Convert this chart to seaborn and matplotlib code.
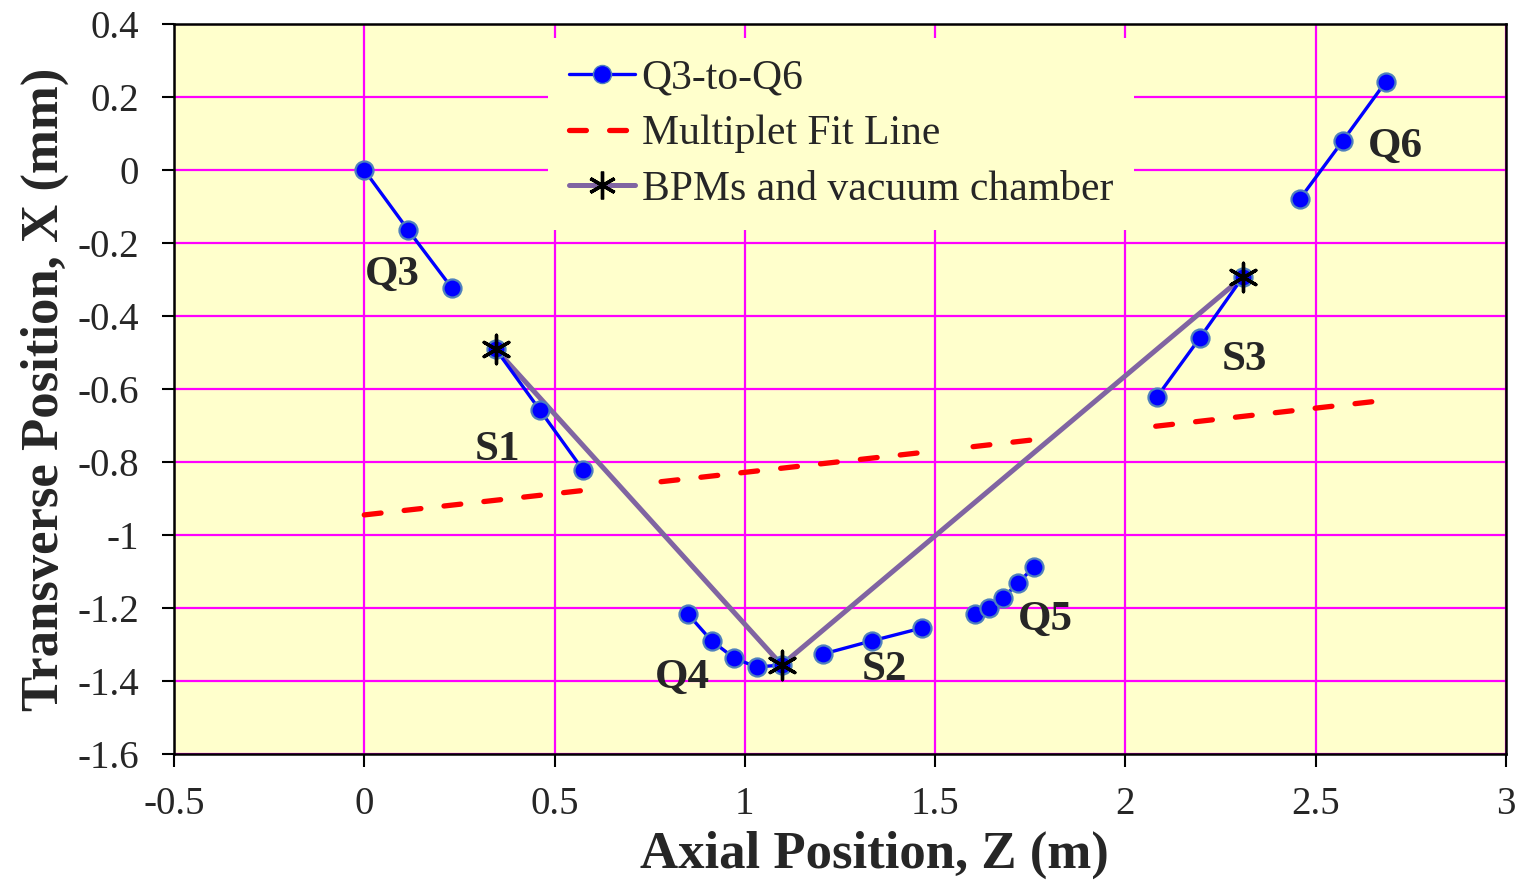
import numpy as np
import pandas as pd
import seaborn as sns
from matplotlib import pyplot as plt
from matplotlib.lines import Line2D

# magnet centre line measurements (Z in m, X in mm)
magnets = ['Q3', 'S1', 'Q4', 'S2', 'Q5', 'S3', 'Q6']
mag_z = [
    [0.0, 0.115, 0.230],
    [0.345, 0.461, 0.575],
    [0.850, 0.913, 0.972, 1.031, 1.097],
    [1.206, 1.334, 1.465],
    [1.605, 1.641, 1.678, 1.718, 1.759],
    [2.083, 2.196, 2.309],
    [2.459, 2.571, 2.684],
]
mag_x = [
    [0.0, -0.164, -0.323],
    [-0.490, -0.657, -0.822],
    [-1.216, -1.290, -1.337, -1.362, -1.356],
    [-1.326, -1.290, -1.255],
    [-1.216, -1.200, -1.173, -1.132, -1.088],
    [-0.622, -0.460, -0.293],
    [-0.079, 0.079, 0.241],
]

# multiplet fit line, drawn in pieces
fit_seg = ['a', 'a', 'b', 'b', 'c', 'c', 'd', 'd']
fit_z = [0.0, 0.575, 0.78, 1.50, 1.60, 1.76, 2.08, 2.69]
fit_x = [-0.945, -0.878, -0.854, -0.770, -0.758, -0.739, -0.702, -0.630]

# BPMs and vacuum chamber
bpm_z = [0.345, 1.097, 2.309]
bpm_x = [-0.490, -1.356, -0.293]

# where the magnet names go
label_z = [0.075, 0.349, 0.835, 1.368, 1.789, 2.314, 2.711]
label_x = [-0.288, -0.767, -1.392, -1.370, -1.233, -0.521, 0.063]

mag_df = pd.DataFrame({
    'magnet': [m for m, zs in zip(magnets, mag_z) for _ in zs],
    'z': [v for zs in mag_z for v in zs],
    'x': [v for xs in mag_x for v in xs],
})
fit_df = pd.DataFrame({'seg': fit_seg, 'z': fit_z, 'x': fit_x})
bpm_df = pd.DataFrame({'z': bpm_z, 'x': bpm_x})

sns.set_style('ticks')
plt.rcParams['font.family'] = ['Liberation Serif', 'DejaVu Serif']

blue = '#0000FF'
purple = '#8064A2'
star = (6, 2, 0)
dash = (0, (3.2, 4.4))

fig, ax = plt.subplots(figsize=(15.21, 8.8), dpi=100)
fig.subplots_adjust(left=0.1144, right=0.990, top=0.9727, bottom=0.1432)
ax.set_facecolor('#FFFFCC')

sns.lineplot(data=bpm_df, x='z', y='x', sort=False, color=purple, lw=3.6,
             ax=ax, zorder=3)
sns.lineplot(data=fit_df, x='z', y='x', units='seg', estimator=None, sort=False,
             color='red', lw=3.8, ax=ax, zorder=3,
             linestyle=dash, dash_capstyle='round')
sns.lineplot(data=mag_df, x='z', y='x', units='magnet', estimator=None,
             sort=False, color=blue, lw=2.4, marker='o', markersize=13,
             markerfacecolor=blue, markeredgecolor='#4F81BD',
             markeredgewidth=1.6, ax=ax, zorder=4)
sns.scatterplot(data=bpm_df, x='z', y='x', marker=star, s=420, color='black',
                linewidth=2.4, ax=ax, zorder=5)

for name, lz, lx in zip(magnets, label_z, label_x):
    ax.text(lz, lx, name, fontsize=31, fontweight='bold', ha='center',
            va='center', zorder=6)

ax.set_xlim(-0.5, 3)
ax.set_ylim(-1.6, 0.4)
ax.set_xticks(np.arange(-0.5, 3.01, 0.5))
ax.set_yticks(np.arange(-1.6, 0.41, 0.2))
ax.set_xticklabels(['-0.5', '0', '0.5', '1', '1.5', '2', '2.5', '3'])
ax.set_yticklabels(['-1.6', '-1.4', '-1.2', '-1', '-0.8', '-0.6', '-0.4',
                    '-0.2', '0', '0.2', '0.4'])
ax.grid(True, color='#FF00FF', lw=1.6)
ax.set_axisbelow(True)
ax.tick_params(labelsize=28, length=9, width=1.5, color='black', direction='out')
ax.tick_params(axis='x', pad=14)
ax.tick_params(axis='y', pad=16)
for sp in ax.spines.values():
    sp.set_visible(True)
    sp.set_color('black')
    sp.set_linewidth(1.8)

ax.set_xlabel('Axial Position, Z (m)', fontsize=38, fontweight='bold', labelpad=4)
ax.xaxis.set_label_coords(0.526, -0.105)
ax.set_ylabel('Transverse Position, X (mm)', fontsize=38, fontweight='bold',
              labelpad=6)

handles = [
    Line2D([], [], color=blue, lw=2.4, marker='o', markersize=13,
           markerfacecolor=blue, markeredgecolor='#4F81BD'),
    Line2D([], [], color='red', lw=3.8, linestyle=dash,
           dash_capstyle='round'),
    Line2D([], [], color=purple, lw=3.6, marker=star, markersize=20,
           markeredgecolor='black', markeredgewidth=2.4),
]
leg = ax.legend(handles, ['Q3-to-Q6', 'Multiplet Fit Line',
                          'BPMs and vacuum chamber'],
                loc='upper left', bbox_to_anchor=(0.265, 1.009), fontsize=30,
                frameon=True, facecolor='#FFFFCC', edgecolor='none',
                framealpha=1, fancybox=False, handlelength=1.6,
                handletextpad=0.15, labelspacing=0.41, numpoints=1,
                borderpad=0.5)
leg.set_zorder(7)

fig.savefig('out.png', dpi=100, facecolor='white')
